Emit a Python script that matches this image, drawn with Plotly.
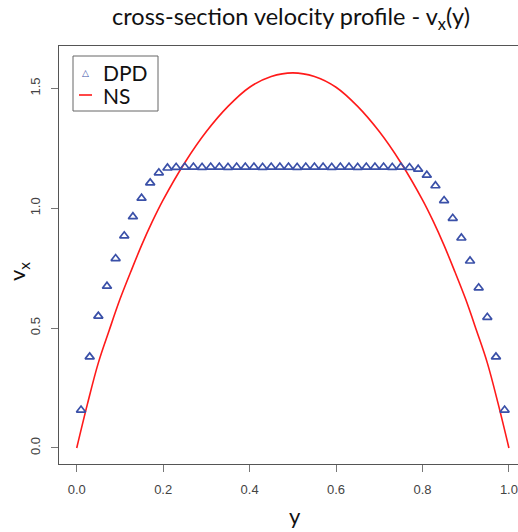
import plotly.graph_objects as go

# DPD samples (cell centres across the channel) and NS reference curve
dpd_y = [0.01, 0.03, 0.05, 0.07, 0.09, 0.11, 0.13, 0.15, 0.17, 0.19,
         0.21, 0.23, 0.25, 0.27, 0.29, 0.31, 0.33, 0.35, 0.37, 0.39,
         0.41, 0.43, 0.45, 0.47, 0.49, 0.51, 0.53, 0.55, 0.57, 0.59,
         0.61, 0.63, 0.65, 0.67, 0.69, 0.71, 0.73, 0.75, 0.77, 0.79,
         0.81, 0.83, 0.85, 0.87, 0.89, 0.91, 0.93, 0.95, 0.97, 0.99]
dpd_vx = [0.158, 0.380, 0.550, 0.675, 0.790, 0.885, 0.965, 1.042, 1.106, 1.148,
          1.168, 1.171, 1.172, 1.172, 1.171, 1.172, 1.172, 1.171, 1.172, 1.172,
          1.172, 1.171, 1.172, 1.172, 1.172, 1.171, 1.172, 1.172, 1.172, 1.171,
          1.172, 1.172, 1.171, 1.172, 1.172, 1.172, 1.171, 1.172, 1.170, 1.163,
          1.138, 1.094, 1.032, 0.958, 0.876, 0.780, 0.668, 0.545, 0.380, 0.158]

ns_y = [0.0, 0.025, 0.05, 0.075, 0.1, 0.125, 0.15, 0.175, 0.2, 0.25, 0.3, 0.35, 0.4, 0.45, 0.5,
        0.55, 0.6, 0.65, 0.7, 0.75, 0.8, 0.825, 0.85, 0.875, 0.9, 0.925, 0.95, 0.975, 1.0]
ns_vx = [0.0, 0.185, 0.355, 0.490, 0.620, 0.735, 0.845, 0.945, 1.035, 1.190, 1.320, 1.425, 1.505, 1.550, 1.565,
         1.550, 1.505, 1.425, 1.320, 1.190, 1.035, 0.945, 0.845, 0.735, 0.620, 0.490, 0.355, 0.185, 0.0]

x_ticks = [0.0, 0.2, 0.4, 0.6, 0.8, 1.0]
y_ticks = [0.0, 0.5, 1.0, 1.5]
series_names = ["DPD", "NS"]

dpd_col = "#3a50a8"
ns_col = "#ff1a1a"

fig = go.Figure()
fig.add_trace(go.Scatter(x=ns_y, y=ns_vx, mode="lines", name=series_names[1],
                         line=dict(color=ns_col, width=1.6, shape="spline")))
fig.add_trace(go.Scatter(x=dpd_y, y=dpd_vx, mode="markers", name=series_names[0],
                         marker=dict(symbol="triangle-up-open", size=8, color=dpd_col,
                                     line=dict(width=1.7, color=dpd_col))))

# plot area in pixels: left 59, right 518, top 46, bottom 464
def px(xp):
    return (xp - 59) / 459

def py(yp):
    return (464 - yp) / 418

axis_font = dict(family="Liberation Sans, Arial", size=13, color="#444")
label_font = dict(family="Lato", size=22, color="#111")

# hand-drawn legend box like base R
shapes = [
    dict(type="rect", xref="paper", yref="paper", x0=px(73), x1=px(158), y0=py(111), y1=py(56),
         line=dict(color="#666", width=1), fillcolor="white", layer="above"),
    dict(type="line", xref="paper", yref="paper", x0=px(79), x1=px(92), y0=py(95), y1=py(95),
         line=dict(color=ns_col, width=1.6), layer="above"),
]
annotations = [
    dict(text="△", xref="paper", yref="paper", x=px(85.5), y=py(73), xanchor="center", yanchor="middle",
         showarrow=False, font=dict(family="DejaVu Sans", size=9, color=dpd_col)),
    dict(text=series_names[0], xref="paper", yref="paper", x=px(101), y=py(73), xanchor="left", yanchor="middle",
         showarrow=False, font=dict(family="Lato", size=21, color="#111")),
    dict(text=series_names[1], xref="paper", yref="paper", x=px(101), y=py(96), xanchor="left", yanchor="middle",
         showarrow=False, font=dict(family="Lato", size=21, color="#111")),
    dict(text="y", xref="paper", yref="paper", x=px(295), y=py(515),
         xanchor="center", yanchor="middle", showarrow=False, font=label_font),
    dict(text="v<sub>x</sub>", xref="paper", yref="paper", x=px(18), y=py(272), textangle=-90,
         xanchor="center", yanchor="middle", showarrow=False, font=label_font),
]

fig.update_layout(
    width=518, height=532,
    margin=dict(l=59, r=0, t=46, b=68),
    plot_bgcolor="white", paper_bgcolor="white",
    showlegend=False,
    title=dict(text="cross-section velocity profile - v<sub>x</sub>(y)",
               x=291 / 518, xanchor="center", y=1 - 17 / 532, yanchor="middle",
               font=dict(family="Lato", size=23.5, color="#111")),
    shapes=shapes,
    annotations=annotations,
)

fig.update_xaxes(range=[-0.041, 1.021], tickvals=x_ticks, ticktext=["0.0", "0.2", "0.4", "0.6", "0.8", "1.0"],
                 showgrid=False, zeroline=False, showline=True, mirror=True,
                 linecolor="#555", linewidth=1, ticks="outside", ticklen=7,
                 tickcolor="#777", tickfont=axis_font, ticklabelstandoff=6)
fig.update_yaxes(range=[-0.067, 1.677], tickvals=y_ticks, ticktext=["0.0", "0.5", "1.0", "1.5"],
                 showgrid=False, zeroline=False, showline=True, mirror=False,
                 linecolor="#555", linewidth=1, ticks="outside", ticklen=7,
                 tickcolor="#777", tickfont=axis_font, tickangle=-90, ticklabelstandoff=6)

fig.write_html("out.html", config={"displayModeBar": False},
               post_script="document.body.style.margin='0px';document.body.style.overflow='hidden';")
